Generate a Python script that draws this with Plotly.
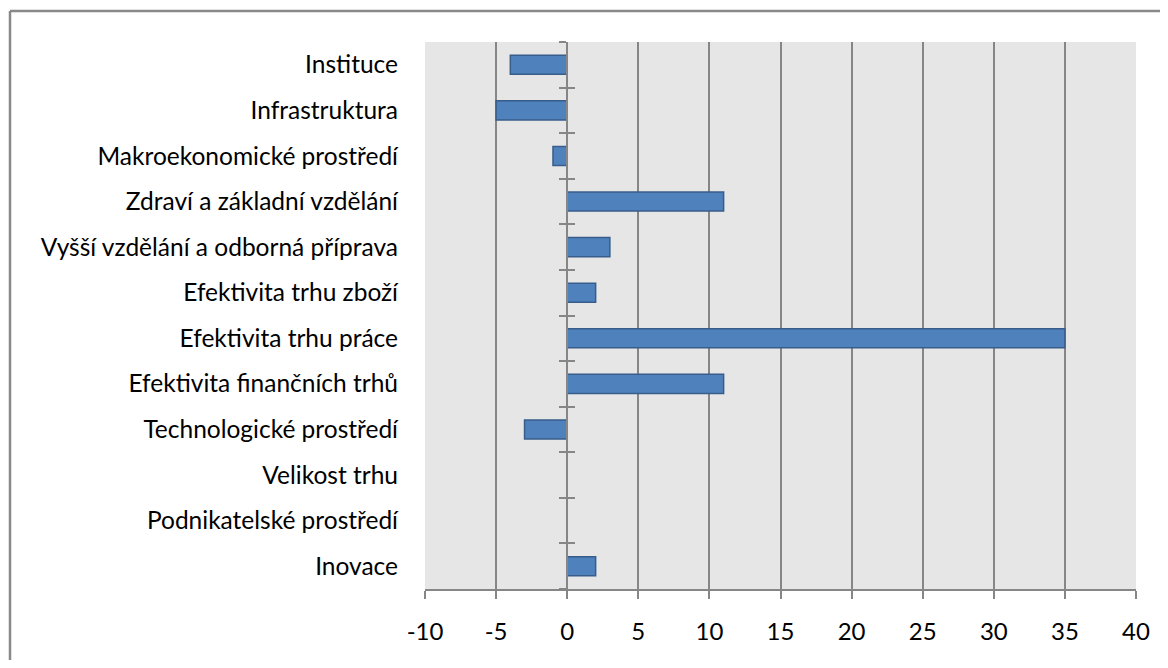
import plotly.graph_objects as go

categories = [
    "Instituce",
    "Infrastruktura",
    "Makroekonomické prostředí",
    "Zdraví a základní vzdělání",
    "Vyšší vzdělání a odborná příprava",
    "Efektivita trhu zboží",
    "Efektivita trhu práce",
    "Efektivita finančních trhů",
    "Technologické prostředí",
    "Velikost trhu",
    "Podnikatelské prostředí",
    "Inovace",
]
values = [-4, -5, -1, 11, 3, 2, 35, 11, -3, 0, 0, 2]
x_ticks = [-10, -5, 0, 5, 10, 15, 20, 25, 30, 35, 40]
x_ticktext = [str(v) for v in x_ticks]

FONT = "Lato"
GRID = "#868686"
n = len(categories)

fig = go.Figure()
fig.add_trace(go.Bar(
    x=values, y=categories, orientation="h",
    marker=dict(color="#4f81bd", line=dict(color="#385d8a", width=1.5)),
    width=0.42, showlegend=False, hoverinfo="x+y",
))

# helper traces for the zero-line axis with crossing ticks
fig.add_trace(go.Scatter(x=[None], y=[None], yaxis="y2", showlegend=False))
fig.add_trace(go.Scatter(x=[None], y=[None], yaxis="y3", showlegend=False))

boundaries = [i - 0.5 for i in range(n + 1)]
x0_frac = (0 - x_ticks[0]) / (x_ticks[-1] - x_ticks[0])

W, H = 1152, 652
ML, MR, MT, MB = 417, 24, 34, 71
PW, PH = W - ML - MR, H - MT - MB
bx = -(ML - 2) / PW
by = 1 + (MT - 3) / PH

fig.update_layout(
    width=W, height=H,
    margin=dict(l=ML, r=MR, t=MT, b=MB, autoexpand=False),
    paper_bgcolor="white",
    plot_bgcolor="#e6e6e6",
    font=dict(family=FONT, size=24, color="#000000"),
    xaxis=dict(
        range=[x_ticks[0], x_ticks[-1]], tickvals=x_ticks, ticktext=x_ticktext,
        showgrid=True, gridcolor=GRID, gridwidth=1.5,
        zeroline=False, showline=True, linecolor=GRID, linewidth=1.5,
        ticks="outside", ticklen=8, tickcolor=GRID, tickwidth=1.5,
        ticklabelstandoff=12, fixedrange=True, automargin=False,
        tickfont=dict(family=FONT, size=24),
    ),
    yaxis=dict(
        type="category", categoryorder="array", categoryarray=categories,
        range=[n - 0.5, -0.5], showgrid=False, zeroline=False, showline=False,
        ticks="", ticklabelstandoff=26, automargin=False,
        tickfont=dict(family=FONT, size=24.5),
    ),
    yaxis2=dict(
        overlaying="y", anchor="free", position=x0_frac, automargin=False,
        range=[n - 0.5, -0.5], tickvals=boundaries, showticklabels=False,
        showgrid=False, zeroline=False, showline=True, linecolor=GRID, linewidth=2,
        ticks="outside", ticklen=7, tickcolor=GRID, tickwidth=1.5,
    ),
    yaxis3=dict(
        overlaying="y", anchor="free", position=x0_frac, automargin=False,
        range=[n - 0.5, -0.5], tickvals=boundaries, showticklabels=False,
        showgrid=False, zeroline=False, showline=False,
        ticks="inside", ticklen=7, tickcolor=GRID, tickwidth=1.5,
    ),
    shapes=[
        dict(type="line", xref="paper", yref="paper",
             x0=bx, x1=bx, y0=-0.3, y1=by,
             line=dict(color="#898989", width=2.5), layer="below"),
        dict(type="line", xref="paper", yref="paper",
             x0=bx, x1=1.2, y0=by, y1=by,
             line=dict(color="#898989", width=2.5), layer="below"),
    ],
)

fig.write_html("out.html")
